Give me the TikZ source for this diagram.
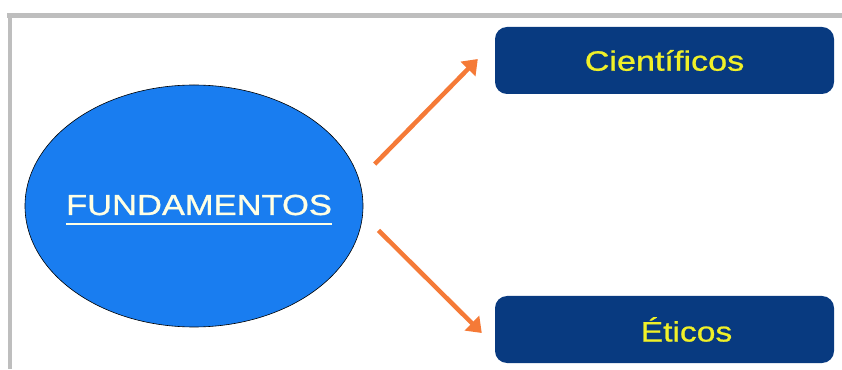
\documentclass[tikz,border=0pt]{standalone}
\usepackage{fontspec}
\usepackage{graphicx}
\setmainfont{Liberation Sans}
\newfontfamily\heavysans[FakeBold=0.8]{Liberation Sans}
\usetikzlibrary{arrows.meta,shapes.geometric}

\definecolor{fundblue}{RGB}{25,125,240}
\definecolor{boxblue}{RGB}{8,58,128}
\definecolor{boxtext}{RGB}{240,240,40}
\definecolor{fundtext}{RGB}{255,255,228}
\definecolor{arrorange}{RGB}{245,122,55}
\definecolor{framegray}{RGB}{190,190,190}

% underlined, widened title (takes no room in its node)
\newcommand{\fundtitle}[1]{\setbox0\hbox{\scalebox{1.19}[1]{#1}}%
  \makebox[0pt]{\raisebox{-9pt}[0pt][0pt]{\rlap{\rule[-10pt]{\wd0}{2pt}}\box0}}}

\begin{document}
\begin{tikzpicture}[x=1pt,y=1pt,
    arr/.style={-{Triangle[length=14pt,width=20pt]},line width=4.5pt,arrorange}]
            \useasboundingbox (0,0) rectangle (842,369);
            \draw[framegray,line width=4.5pt] (7,353.5) -- (842,353.5);
            \draw[framegray,line width=3.5pt] (10,355.5) -- (10,0);
            \node (fund) at (194,163) [ellipse,draw=black,line width=0.6pt,fill=fundblue,
                minimum width=338pt,minimum height=242pt,inner sep=0pt,
                text=fundtext,font=\heavysans\fontsize{29}{29}\selectfont]
                {\hspace*{10pt}\fundtitle{FUNDAMENTOS}};
            \begin{scope}[every node/.style={rectangle,rounded corners=12pt,fill=boxblue,
                minimum width=339pt,minimum height=67pt,inner sep=0pt,
                text=boxtext,font=\heavysans\fontsize{28}{28}\selectfont}]
                \node (cient) at (664.5,308.5) {\scalebox{1.22}[1]{Científicos}};
                \node (eti) at (664.5,39.5) {\hspace*{44pt}\scalebox{1.2}[1]{Éticos}};
            \end{scope}
            \draw (fund.9) edge [arr, shorten <=22pt] ([xshift=-17pt,yshift=1.5pt]cient.west);
            \draw (fund.-3) edge [arr, shorten <=22pt] ([xshift=-13pt,yshift=-3.5pt]eti.west);
        \end{tikzpicture}
\end{document}
